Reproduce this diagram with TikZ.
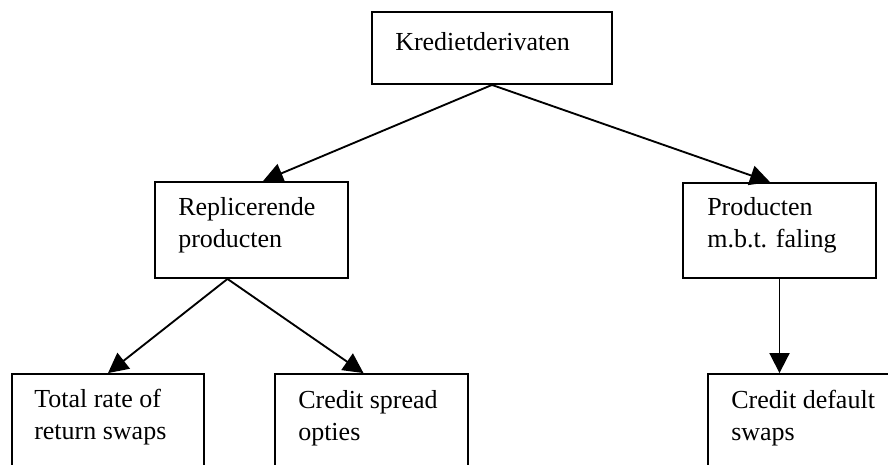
\documentclass[tikz,border=0pt]{standalone}
\usepackage{fontspec}
\setmainfont{Liberation Serif}
\usetikzlibrary{arrows.meta,calc}
\begin{document}
\begin{tikzpicture}[x=0.75pt,y=-0.75pt,
  box/.style={draw=black,line width=1.4pt,rectangle,inner sep=0pt,fill=white},
  lbl/.style={anchor=base west,inner sep=0pt,font=\fontsize{19.5}{24}\selectfont},
  link/.style={line width=1.4pt,-{Triangle[length=15pt,width=15pt]}}]
\useasboundingbox (0,0) rectangle (888,464);
\clip (0,0) rectangle (888,464);
\fill[white] (0,0) rectangle (888,464);

% boxes
\node[box,minimum width=180pt,minimum height=54pt] (root) at (492,48) {};
\node[box,minimum width=144.75pt,minimum height=72pt] (rep) at (251.5,230) {};
\node[box,minimum width=144.75pt,minimum height=71.25pt] (prod) at (779.5,230.5) {};
\node[box,minimum width=144pt,minimum height=72pt] (trs) at (108,422) {};
\node[box,minimum width=144.75pt,minimum height=72pt] (cso) at (371.5,422) {};
\node[box,minimum width=144.75pt,minimum height=72pt] (cds) at (804.5,422) {};

% labels
\node[lbl] (root-t) at (395,50) {Kredietderivaten};
\node[lbl] (rep-a) at (178,215) {Replicerende};
\node[lbl] (rep-b) at (178,247) {producten};
\node[lbl] (prod-a) at (707,215) {Producten};
\node[lbl] (prod-b) at (707,247) {m.b.t. faling};
\node[lbl] (trs-a) at (34,407) {Total rate of};
\node[lbl] (trs-b) at (34,439) {return swaps};
\node[lbl] (cso-a) at (298,408) {Credit spread};
\node[lbl] (cso-b) at (298,440) {opties};
\node[lbl] (cds-a) at (731,408) {Credit default};
\node[lbl] (cds-b) at (731,440) {swaps};

% connectors
\draw[link] (root.south) -- ($(rep.north)+(11.5,0)$);
\draw[link] (root.south) -- ($(prod.north)+(-9.5,0)$);
\draw[link] ($(rep.south)+(-24,0)$) -- (trs.north);
\draw[link] ($(rep.south)+(-24,0)$) -- ($(cso.north)+(-8,0)$);
\draw[link] (prod.south) -- ($(cds.north)+(-25,0)$);
\end{tikzpicture}
\end{document}
